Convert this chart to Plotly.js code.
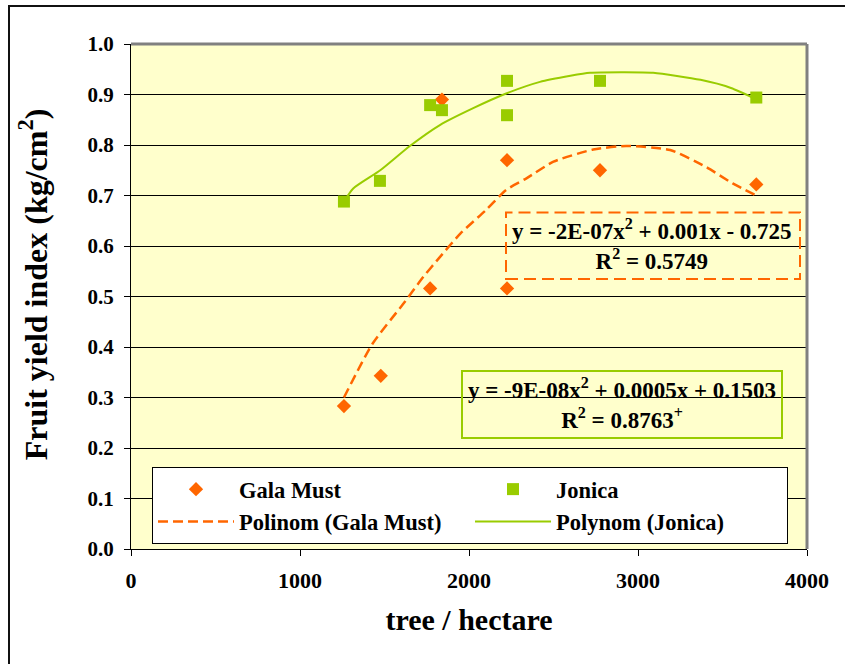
<!DOCTYPE html>
<html>
<head>
<meta charset="utf-8">
<script src="https://cdn.plot.ly/plotly-3.0.1.min.js"></script>
<style>
html,body{margin:0;padding:0;background:#fff;}
#chart{width:845px;height:664px;}
</style>
</head>
<body>
<div id="chart"></div>
<script>
// ---- data ----
var galaX = [1260, 1478, 1770, 1840, 2225, 2225, 2775, 3700];
var galaY = [0.283, 0.343, 0.516, 0.890, 0.770, 0.516, 0.750, 0.722];

var jonicaX = [1260, 1473, 1770, 1840, 2225, 2225, 2775, 3700];
var jonicaY = [0.688, 0.729, 0.879, 0.869, 0.927, 0.859, 0.927, 0.894];

// trend curves as traced on the picture
var galaFitX = [1260, 1430, 1610, 1730, 1830, 1950, 2100, 2220, 2340, 2500, 2735, 2930, 3190, 3400, 3560, 3700];
var galaFitY = [0.300, 0.407, 0.485, 0.539, 0.579, 0.625, 0.671, 0.711, 0.734, 0.767, 0.791, 0.798, 0.790, 0.757, 0.724, 0.700];

var jonicaFitX = [1260, 1315, 1475, 1650, 1830, 2025, 2220, 2420, 2600, 2716, 2900, 3090, 3370, 3550, 3700];
var jonicaFitY = [0.688, 0.714, 0.750, 0.798, 0.840, 0.873, 0.902, 0.925, 0.937, 0.943, 0.944, 0.943, 0.929, 0.913, 0.891];

var seriesNames = ["Gala Must", "Jonica", "Polinom (Gala Must)", "Polynom (Jonica)"];
var xTicks = [0, 1000, 2000, 3000, 4000];
var yTicks = [0, 0.1, 0.2, 0.3, 0.4, 0.5, 0.6, 0.7, 0.8, 0.9, 1.0];

var eqGala = "y = -2E-07x<sup>2</sup> + 0.001x - 0.725<br>R<sup>2</sup> = 0.5749";
var eqJonica = "y = -9E-08x<sup>2</sup> + 0.0005x + 0.1503<br>R<sup>2</sup> = 0.8763<sup>+</sup>";

var ORANGE = "#FF6600";
var GREEN = "#99CC00";
var FONT = "Liberation Serif";

function f(size){ return {family: FONT, size: size, color: "#000", weight: 700}; }

var traces = [
  {x: galaFitX, y: galaFitY, mode: "lines", name: seriesNames[2], legendrank: 3,
   line: {color: ORANGE, width: 2.5, dash: "10px,5px", shape: "spline", smoothing: 0.6}},
  {x: jonicaFitX, y: jonicaFitY, mode: "lines", name: seriesNames[3], legendrank: 4,
   line: {color: GREEN, width: 2, shape: "spline", smoothing: 0.6}},
  {x: galaX, y: galaY, mode: "markers", name: seriesNames[0], legendrank: 1,
   marker: {symbol: "diamond", size: 11, color: ORANGE, line: {width: 0}}},
  {x: jonicaX, y: jonicaY, mode: "markers", name: seriesNames[1], legendrank: 2,
   marker: {symbol: "square", size: 12, color: GREEN, line: {width: 0}}}
];

function px2x(p){ return (p - 131) / 676; }
function px2y(p){ return (549 - p) / 505; }

var layout = {
  width: 845, height: 664,
  margin: {l: 131, r: 38, t: 44, b: 115, pad: 0},
  paper_bgcolor: "#FFFFFF",
  plot_bgcolor: "#FFFFCC",
  font: f(21),
  showlegend: true,
  xaxis: {
    range: [0, 4000], tickvals: xTicks, ticktext: xTicks.map(String),
    showgrid: false, zeroline: false,
    showline: true, linecolor: "#000", linewidth: 1,
    ticks: "outside", ticklen: 6, tickcolor: "#000", tickwidth: 1,
    tickfont: f(22),
    ticklabelstandoff: 6,
    title: {text: "tree / hectare", font: f(30), standoff: 16},
    automargin: false, fixedrange: true
  },
  yaxis: {
    range: [0, 1], tickvals: yTicks, ticktext: yTicks.map(function(v){return v.toFixed(1);}),
    showgrid: true, gridcolor: "#000", gridwidth: 1, zeroline: false,
    showline: true, linecolor: "#000", linewidth: 1,
    ticks: "outside", ticklen: 6, tickcolor: "#000", tickwidth: 1,
    tickfont: f(21),
    ticklabelstandoff: 6,
    title: {text: "&nbsp;&nbsp;&nbsp;Fruit yield index (kg/cm<sup>2</sup>)", font: f(32), standoff: 30},
    automargin: false, fixedrange: true
  },
  legend: {
    orientation: "h",
    x: px2x(152), y: px2y(467), xanchor: "left", yanchor: "top",
    bgcolor: "#FFFFFF", bordercolor: "#000", borderwidth: 1,
    font: f(22.5),
    entrywidth: 226, entrywidthmode: "pixels",
    itemwidth: 76, tracegroupgap: 0, traceorder: "normal"
  },
  shapes: [
    {type: "rect", xref: "paper", yref: "paper", x0: px2x(9), x1: px2x(870), y0: px2y(690), y1: px2y(6),
     line: {color: "#111", width: 2}, fillcolor: "rgba(0,0,0,0)", layer: "above"},
    {type: "line", xref: "paper", yref: "paper", x0: 0, x1: 1, y0: 1, y1: 1, line: {color: "#808080", width: 3}},
    {type: "line", xref: "paper", yref: "paper", x0: 1, x1: 1, y0: 0, y1: 1, line: {color: "#808080", width: 3}},
    {type: "rect", xref: "paper", yref: "paper", x0: px2x(506), x1: px2x(800), y0: px2y(279), y1: px2y(212.5),
     line: {color: ORANGE, width: 2, dash: "12px,6px"}, fillcolor: "rgba(0,0,0,0)"},
    {type: "rect", xref: "paper", yref: "paper", x0: px2x(462), x1: px2x(782), y0: px2y(438), y1: px2y(371),
     line: {color: GREEN, width: 2}, fillcolor: "rgba(0,0,0,0)"}
  ],
  annotations: [
    {xref: "paper", yref: "paper", x: px2x(652), y: px2y(244), xanchor: "center", yanchor: "middle",
     text: eqGala, showarrow: false, align: "center", font: f(23)},
    {xref: "paper", yref: "paper", x: px2x(622), y: px2y(403), xanchor: "center", yanchor: "middle",
     text: eqJonica, showarrow: false, align: "center", font: f(23)}
  ]
};

Plotly.newPlot("chart", traces, layout, {displayModeBar: false, staticPlot: true});
</script>
</body>
</html>
